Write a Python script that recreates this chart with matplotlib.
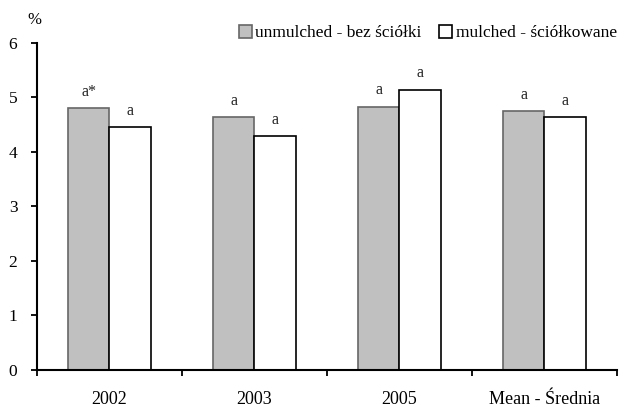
import matplotlib
matplotlib.use("Agg")
import matplotlib.pyplot as plt
import numpy as np

categories = ["2002", "2003", "2005", "Mean - Średnia"]
unmulched = [4.80, 4.63, 4.83, 4.74]
mulched = [4.45, 4.29, 5.14, 4.63]
unmulched_marks = ["a*", "a", "a", "a"]
mulched_marks = ["a", "a", "a", "a"]
series_labels = ["unmulched - bez ściółki", "mulched - ściółkowane"]

plt.rcParams["font.family"] = ["Liberation Serif", "DejaVu Serif"]

fig = plt.figure(figsize=(6.23, 4.09), dpi=100)
ax = fig.add_axes([0.059, 0.0954, 0.931, 0.8002])

x = np.arange(len(categories))
w = 0.286
b1 = ax.bar(x - w / 2, unmulched, w, color="#c0c0c0", edgecolor="#666666",
            linewidth=1.2, label=series_labels[0])
b2 = ax.bar(x + w / 2, mulched, w, color="white", edgecolor="black",
            linewidth=1.2, label=series_labels[1])

for bars, marks in ((b1, unmulched_marks), (b2, mulched_marks)):
    for rect, txt in zip(bars, marks):
        ax.annotate(txt, (rect.get_x() + rect.get_width() / 2, rect.get_height()),
                    xytext=(0, 6), textcoords="offset points", ha="center",
                    va="bottom", fontsize=11.5, color="#222222")

ax.set_xlim(-0.5, len(categories) - 0.5)
ax.set_ylim(0, 6)
ax.set_yticks(range(0, 7))
ax.set_xticks(np.arange(-0.5, len(categories)), labels=[""] * (len(categories) + 1))
ax.set_xticks(x, labels=categories, minor=True)
ax.tick_params(axis="x", which="minor", length=0, pad=15, labelsize=13)
ax.tick_params(axis="x", which="major", direction="out", length=4, width=1.3)
ax.tick_params(axis="y", direction="out", length=4, width=1.3, labelsize=12.5, pad=10)

for s in ("top", "right"):
    ax.spines[s].set_visible(False)
for s in ("left", "bottom"):
    ax.spines[s].set_linewidth(1.5)

fig.text(0.055, 0.951, "%", fontsize=12, ha="center", va="center")

ax.legend(loc="center right", bbox_to_anchor=(0.99, 0.919),
          bbox_transform=fig.transFigure, ncol=2, frameon=False,
          fontsize=12.5, handlelength=0.75, handleheight=0.75, handletextpad=0.2,
          columnspacing=1.0, borderaxespad=0, borderpad=0)

fig.savefig("out.png", dpi=100)
